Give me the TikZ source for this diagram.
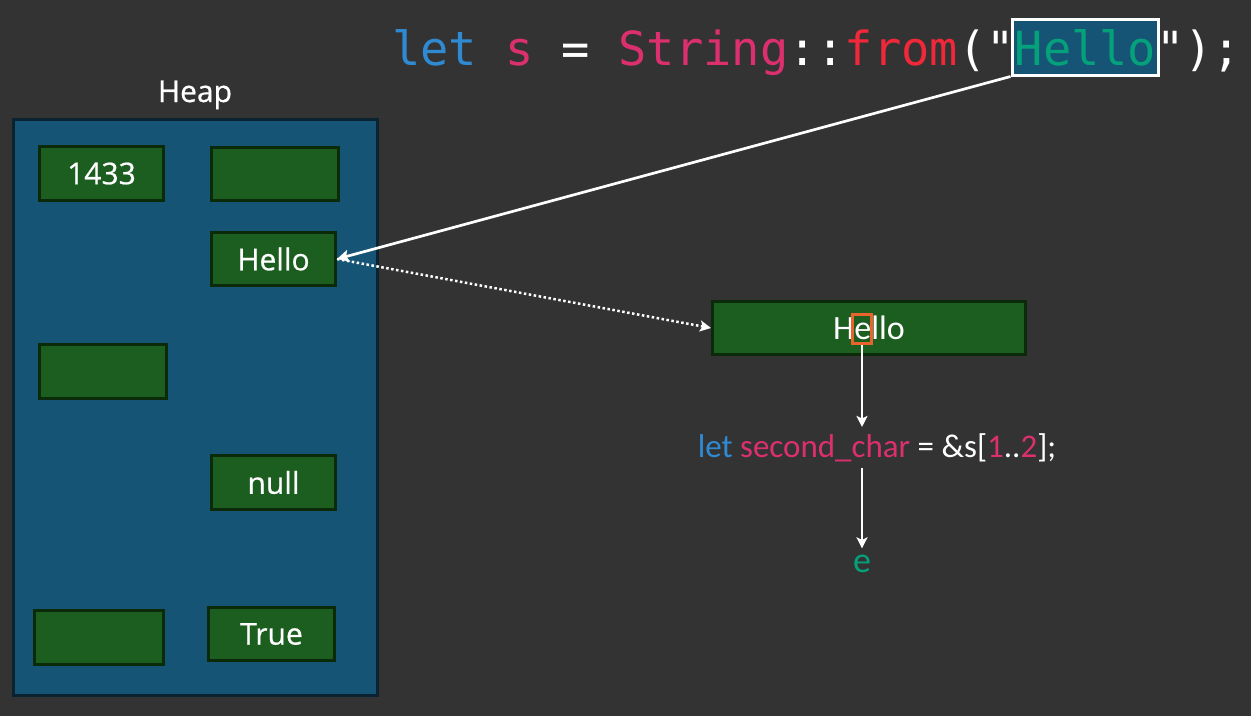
\documentclass[tikz,border=0pt]{standalone}
\usepackage{fontspec}
\usetikzlibrary{arrows.meta}
\newfontfamily\heapfont{Open Sans}[FakeBold=0.6]
\newfontfamily\calfont{Carlito}
\newfontfamily\codefont{DejaVu Sans Mono}
\definecolor{bg}{HTML}{333333}
\definecolor{heapblue}{HTML}{165476}
\definecolor{heapedge}{HTML}{0B2230}
\definecolor{cellgreen}{HTML}{1B5E20}
\definecolor{celledge}{HTML}{0A2A0A}
\definecolor{kwblue}{HTML}{2F8AD2}
\definecolor{idpink}{HTML}{DC306E}
\definecolor{fnred}{HTML}{F0283A}
\definecolor{strgreen}{HTML}{05A17B}
\definecolor{hlorange}{HTML}{E8642C}
\tikzset{
  heapbox/.style={draw=heapedge, fill=heapblue, line width=3pt, inner sep=0pt},
  cell/.style={draw=celledge, fill=cellgreen, line width=3pt, inner sep=0pt,
    text=white, font=\heapfont\fontsize{30}{36}\selectfont},
  bigcell/.style={draw=celledge, fill=cellgreen, line width=3pt, inner sep=0pt,
    text=white, font=\calfont\fontsize{34}{40}\selectfont},
  hlbox/.style={draw=white, fill=heapblue, line width=3pt, inner sep=0pt},
  charbox/.style={draw=hlorange, line width=2.5pt, inner sep=0pt},
  label/.style={text=white, font=\heapfont\fontsize{30}{36}\selectfont, inner sep=0pt},
  myarrow/.style={draw=white, line width=2.2pt, -{Stealth[length=11pt,width=11pt,inset=2.5pt]}},
  mainarrow/.style={draw=white, line width=2.7pt, -{Stealth[length=12pt,width=12pt,inset=2.5pt]}},
  dotarrow/.style={draw=white, line width=2.5pt, dash pattern=on 2.5pt off 2.5pt,
    -{Stealth[length=11pt,width=11pt,inset=2.5pt]}}
}
\begin{document}
\begin{tikzpicture}[x=1pt,y=-1pt]
\fill[bg] (0,0) rectangle (1251,716);
\useasboundingbox (0,0) rectangle (1251,716);

% heap
\node[label, anchor=base] (heaplabel) at (195,102) {Heap};
\node[heapbox, minimum width=364pt, minimum height=576pt] (heap) at (195.5,407.5) {};
\node[cell, minimum width=124pt, minimum height=54pt] (c1433) at (101.5,173.5) {1433};
\node[cell, minimum width=127pt, minimum height=53pt] (ctr) at (275,174) {};
\node[cell, minimum width=124pt, minimum height=53pt] (hhello) at (273.5,259) {Hello};
\node[cell, minimum width=127pt, minimum height=54pt] (cml) at (103,371.5) {};
\node[cell, minimum width=124pt, minimum height=54pt] (cnull) at (273.5,482.5) {null};
\node[cell, minimum width=129pt, minimum height=54pt] (cbl) at (99,637.5) {};
\node[cell, minimum width=126pt, minimum height=53pt] (ctrue) at (271.5,634) {True};

% top code line
\node[hlbox, minimum width=146pt, minimum height=56pt] (hl) at (1085,47) {};
\node[anchor=base west, inner sep=0pt, text=white,
  font=\codefont\fontsize{47}{56}\selectfont] (code) at (392,65)
  {\textcolor{kwblue}{let} \textcolor{idpink}{s} = \textcolor{idpink}{String}::\textcolor{fnred}{from}("\textcolor{strgreen}{Hello}");};

% big string box
\node[bigcell, minimum width=313pt, minimum height=53pt] (big) at (869,328) {Hello};
\node[charbox, minimum width=19pt, minimum height=29pt] (ebox) at (862,329) {};

% slice code and result
\node[anchor=base, inner sep=6pt, text=white, font=\calfont\fontsize{33}{40}\selectfont]
  (code2) at (877,457)
  {\textcolor{kwblue}{let} \textcolor{idpink}{second\_char} = \&s[\textcolor{idpink}{1}..\textcolor{idpink}{2}];};
\node[anchor=base, inner sep=6pt, text=strgreen, font=\calfont\fontsize{36}{40}\selectfont]
  (eres) at (862,572) {e};

% connectors
\draw[mainarrow] (hl.south west) -- (hhello.east);
\draw[dotarrow] (hhello.east) -- (big.west);
\draw[myarrow] (ebox.south) -- (ebox.south |- code2.north);
\draw[myarrow] (ebox.south |- code2.south) -- (eres.north);
\end{tikzpicture}
\end{document}
